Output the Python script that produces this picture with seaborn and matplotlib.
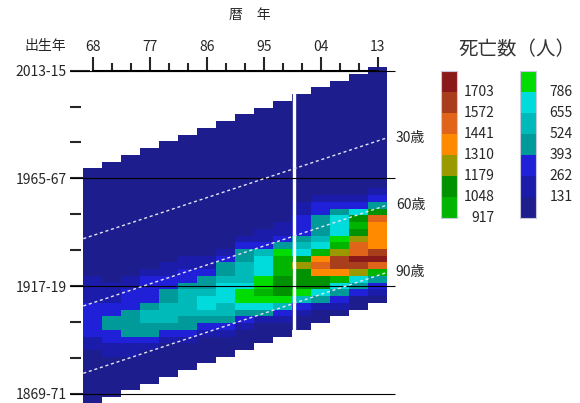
import numpy as np
import pandas as pd
import matplotlib
matplotlib.use("Agg")
import matplotlib.pyplot as plt
from matplotlib.colors import ListedColormap, BoundaryNorm
import seaborn as sns

# period columns (3-year periods, centre year) and birth cohort rows (3-year groups)
periods = [1968, 1971, 1974, 1977, 1980, 1983, 1986, 1989, 1992, 1995, 1998, 2001, 2004, 2007, 2010, 2013]
cohorts = list(range(2014, 1866, -3))  # 2013-15 ... 1866-68

# deaths per cell, one list per period, youngest age group first (35 groups)
d1968 = [60, 60, 60, 60, 60, 60, 60, 60, 60, 60, 60, 60, 60, 60, 60, 60, 190, 190, 190, 190, 320, 320, 320, 320, 320, 190, 190, 60, 60, 60, 60, 60, 60, 60, 60]
d1971 = [60, 60, 60, 60, 60, 60, 60, 60, 60, 60, 60, 60, 60, 60, 60, 60, 60, 60, 190, 190, 190, 320, 320, 450, 450, 320, 320, 190, 190, 60, 60, 60, 60, 60, 60]
d1974 = [60, 60, 60, 60, 60, 60, 60, 60, 60, 60, 60, 60, 60, 60, 60, 60, 60, 60, 190, 190, 320, 320, 320, 450, 450, 450, 450, 320, 190, 190, 60, 60, 60, 60, 60]
d1977 = [60, 60, 60, 60, 60, 60, 60, 60, 60, 60, 60, 60, 60, 60, 60, 60, 60, 60, 190, 320, 320, 320, 320, 450, 590, 590, 450, 450, 320, 190, 60, 60, 60, 60, 60]
d1980 = [60, 60, 60, 60, 60, 60, 60, 60, 60, 60, 60, 60, 60, 60, 60, 60, 60, 60, 190, 190, 320, 320, 450, 450, 590, 590, 590, 450, 320, 190, 60, 60, 60, 60, 60]
d1983 = [60, 60, 60, 60, 60, 60, 60, 60, 60, 60, 60, 60, 60, 60, 60, 60, 60, 60, 190, 190, 320, 320, 450, 590, 590, 590, 590, 450, 450, 320, 190, 60, 60, 60, 60]
d1986 = [60, 60, 60, 60, 60, 60, 60, 60, 60, 60, 60, 60, 60, 60, 60, 60, 60, 60, 60, 190, 190, 320, 450, 450, 590, 720, 720, 590, 450, 320, 190, 60, 60, 60, 60]
d1989 = [60, 60, 60, 60, 60, 60, 60, 60, 60, 60, 60, 60, 60, 60, 60, 60, 60, 60, 60, 190, 320, 450, 450, 590, 720, 720, 720, 590, 590, 450, 320, 190, 60, 60, 60]
d1992 = [60, 60, 60, 60, 60, 60, 60, 60, 60, 60, 60, 60, 60, 60, 60, 60, 60, 60, 190, 320, 450, 450, 590, 590, 590, 720, 850, 850, 720, 450, 320, 190, 60, 60, 60]
d1995 = [60, 60, 60, 60, 60, 60, 60, 60, 60, 60, 60, 60, 60, 60, 60, 60, 60, 60, 190, 190, 320, 590, 720, 720, 720, 850, 850, 980, 850, 720, 450, 190, 60, 60, 60]
d1998 = [60, 60, 60, 60, 60, 60, 60, 60, 60, 60, 60, 60, 60, 60, 60, 60, 60, 60, 190, 190, 320, 450, 850, 980, 980, 980, 1110, 1110, 1110, 850, 590, 320, 190, 60, 60]
d2001 = [60, 60, 60, 60, 60, 60, 60, 60, 60, 60, 60, 60, 60, 60, 60, 60, 190, 190, 320, 320, 320, 450, 590, 720, 1110, 1240, 1110, 1110, 1110, 850, 590, 320, 190, 60, 60]
d2004 = [60, 60, 60, 60, 60, 60, 60, 60, 60, 60, 60, 60, 60, 60, 60, 60, 190, 320, 320, 450, 450, 450, 590, 720, 980, 1370, 1500, 1370, 1110, 1110, 720, 450, 190, 60, 60]
d2007 = [60, 60, 60, 60, 60, 60, 60, 60, 60, 60, 60, 60, 60, 60, 60, 60, 60, 190, 320, 450, 720, 720, 720, 850, 980, 1240, 1640, 1640, 1370, 980, 720, 450, 320, 190, 60]
d2010 = [60, 60, 60, 60, 60, 60, 60, 60, 60, 60, 60, 60, 60, 60, 60, 60, 60, 60, 190, 320, 720, 1110, 980, 1110, 1240, 1500, 1500, 1770, 1640, 1240, 720, 450, 320, 60, 60]
d2013 = [60, 60, 60, 60, 60, 60, 60, 60, 60, 60, 60, 60, 60, 60, 60, 60, 60, 60, 190, 320, 450, 1110, 1500, 1370, 1370, 1370, 1370, 1640, 1770, 1500, 980, 450, 320, 190, 60]
columns = [d1968, d1971, d1974, d1977, d1980, d1983, d1986, d1989,
           d1992, d1995, d1998, d2001, d2004, d2007, d2010, d2013]

# colour classes of the legend
bounds = [0, 131, 262, 393, 524, 655, 786, 917, 1048, 1179, 1310, 1441, 1572, 1703, 1900]
level_colors = ['#1d1d8e', '#1c1caa', '#2020d8', '#009a9a', '#00baba', '#00dcdc', '#00dc00',
                '#00b400', '#009200', '#9a9a00', '#ff8a00', '#e0641a', '#a83e1c', '#8a1a1a']
left_labels = ['1703', '1572', '1441', '1310', '1179', '1048', '917']
right_labels = ['786', '655', '524', '393', '262', '131']

x_major = ['68', '77', '86', '95', '04', '13']
y_major = ['2013-15', '1965-67', '1917-19', '1869-71']
age_lines = [30, 60, 90]

sns.set_style('white')
plt.rcParams['font.family'] = ['Noto Sans CJK JP', 'DejaVu Sans']

cmap = ListedColormap(level_colors)
norm = BoundaryNorm(bounds, cmap.N)

# Lexis grid: rows = cohorts, columns = periods
grid = np.full((len(cohorts), len(periods)), np.nan)
for i, col in enumerate(columns):
    for k, v in enumerate(col):
        r = 15 - i + k
        if 0 <= r < len(cohorts):
            grid[r, i] = v
df = pd.DataFrame(grid, index=cohorts, columns=periods)

fig = plt.figure(figsize=(5.8, 4.03), dpi=100)
ax = fig.add_axes([0.1436, -0.002, 0.5241, 0.835])
sns.heatmap(df, cmap=cmap, norm=norm, cbar=False, ax=ax,
            xticklabels=False, yticklabels=False)

# top calendar-year axis sitting on the 2013-15 row
ax.xaxis.set_ticks_position('top')
ax.set_xticks(np.arange(0, 16, 3) + 0.5, x_major)
ax.set_xticks(np.arange(16) + 0.5, minor=True)
ax.spines['top'].set_visible(True)
ax.spines['top'].set_position(('data', 0.5))
ax.spines['top'].set_bounds(0.5, 15.5)
ax.spines['top'].set_linewidth(1.5)
ax.spines['top'].set_color('black')
ax.tick_params(axis='x', which='major', direction='out', length=10, width=1.5,
               pad=2, labelsize=10, top=True, bottom=False, labeltop=True, labelbottom=False)
ax.tick_params(axis='x', which='minor', direction='out', length=5.5, width=1.5,
               top=True, bottom=False)

# left cohort axis
ax.spines['left'].set_visible(True)
ax.spines['left'].set_color('none')
ax.spines['left'].set_position(('outward', 9.6))
ax.set_yticks([0.5, 16.5, 32.5, 48.5], y_major)
ax.set_yticks(0.5 + np.arange(10) * 16 / 3, minor=True)
ax.tick_params(axis='y', which='major', direction='in', length=14.4, width=1.5,
               pad=2.5, labelsize=10, left=True)
ax.tick_params(axis='y', which='minor', direction='in', length=8, width=1.5, left=True)
ax.set_xlabel('')
ax.set_ylabel('')

ax.hlines([0.5, 16.5, 32.5, 48.5], -0.7, 16.4, colors='black', lw=0.8,
          clip_on=False, zorder=3)
ax.axvline(11.08, color='white', lw=2.4, zorder=2)

for age in age_lines:
    y0 = (age + 46.4) / 3
    ax.plot([0, 16], [y0, y0 - 15], color='#e4e4f4', lw=1.0,
            ls=(0, (2.2, 2.0)), zorder=4, clip_on=False)
    ax.text(16.45, y0 - 15, f'{age}歳', ha='left', va='center', fontsize=10)

fig.text(249.7 / 580, 1 - 15 / 403, '暦　年', ha='center', va='center', fontsize=10)
fig.text(45 / 580, 1 - 46 / 403, '出生年', ha='center', va='center', fontsize=10)
fig.text(517 / 580, 1 - 50 / 403, '死亡数（人）', ha='center', va='center',
         fontsize=14, color='#333333')

# legend: two stacks of colour boxes
ax_l = fig.add_axes([440.7 / 580, 1 - 218 / 403, 16.3 / 580, 147.3 / 403])
ax_r = fig.add_axes([520 / 580, 1 - 218 / 403, 16 / 580, 147.3 / 403])
left_vals = pd.DataFrame(bounds[13:6:-1])
right_vals = pd.DataFrame(bounds[6::-1])
for lax, vals, labels in [(ax_l, left_vals, left_labels + []), (ax_r, right_vals, right_labels)]:
    sns.heatmap(vals, cmap=cmap, norm=norm, cbar=False, ax=lax,
                xticklabels=False, yticklabels=False)
    for s in lax.spines.values():
        s.set_visible(True)
        s.set_color('#c8c8dc')
        s.set_linewidth(0.8)
    for j, lab in enumerate(labels):
        lax.text(3.3, j + 1, lab, ha='right', va='center', fontsize=10,
                 transform=lax.get_yaxis_transform())

fig.savefig('out.png', dpi=100)
